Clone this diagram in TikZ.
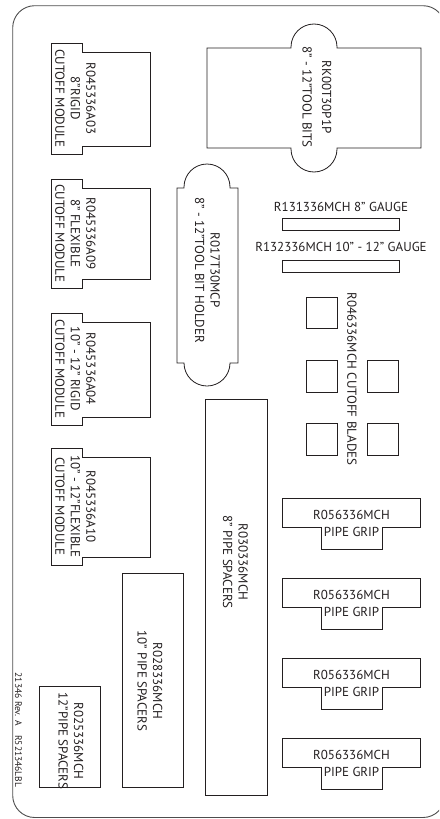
\documentclass[tikz,border=0pt]{standalone}
\usepackage{fontspec}
\setmainfont{PT Sans}

\tikzstyle{part-line}=[draw={partline}, line width=0.8pt]
\tikzstyle{frame-line}=[draw={frameline}, line width=0.9pt]
\tikzstyle{part-text}=[inner sep=0pt, align=center, text={partline}, font=\fontsize{13}{15.5}\selectfont]
\tikzstyle{side-text}=[part-text, rotate=-90]
\definecolor{partline}{HTML}{231f20}
\definecolor{frameline}{HTML}{4d4d4d}

\begin{document}
\begin{tikzpicture}[x=1pt, y=-1pt]
      \useasboundingbox (0, 0) rectangle (439, 819);
      \clip (0, 0) rectangle (439, 819);
      \draw [frame-line, rounded corners=22pt] (12.7, 5.7) rectangle (445, 817.5);

      \draw [part-line] (51, 43) -- (82, 43) -- (82, 52) -- (150, 52) -- (150, 146)
            -- (82, 146) -- (82, 154) -- (51, 154) -- cycle;
      \node (module1) at (75.5, 98.5) [side-text] {R045336A03\\8”RIGID\\CUTOFF MODULE};
      \draw [part-line] (51, 179) -- (82, 179) -- (82, 188) -- (150, 188) -- (150, 279)
            -- (82, 279) -- (82, 288) -- (51, 288) -- cycle;
      \node (module2) at (75.5, 233.5) [side-text] {R045336A09\\8” FLEXIBLE\\CUTOFF MODULE};
      \draw [part-line] (51, 313) -- (82, 313) -- (82, 322) -- (150, 322) -- (150, 417)
            -- (82, 417) -- (82, 425) -- (51, 425) -- cycle;
      \node (module3) at (75.5, 369) [side-text] {R045336A04\\10” - 12” RIGID\\CUTOFF MODULE};
      \draw [part-line] (51, 448) -- (82, 448) -- (82, 457) -- (150, 457) -- (150, 557)
            -- (82, 557) -- (82, 565) -- (51, 565) -- cycle;
      \node (module4) at (75.5, 506.5) [side-text] {R045336A10\\10” - 12”FLEXIBLE\\CUTOFF MODULE};

      \draw [part-line] (207, 48) -- (291, 48) -- (291, 47) arc[start angle=180, end angle=360, radius=23]
            -- (337, 48) -- (421, 48) -- (421, 148) -- (337, 148) -- (337, 149)
            arc[start angle=0, end angle=180, radius=23] -- (291, 148) -- (207, 148) -- cycle;
      \node (toolbits) at (317, 97) [side-text] {RK00T30P1P\\[4pt]8” - 12”TOOL BITS};

      \draw [part-line] (177, 363) -- (177, 188) -- (184, 188) -- (184, 187)
            arc[start angle=180, end angle=360, radius=23] -- (230, 188) -- (238, 188)
            -- (238, 363) -- (230, 363) arc[start angle=0, end angle=180, radius=23] -- (184, 363) -- cycle;
      \node (bitholder) at (207.5, 270) [side-text] {R017T30MCP\\8” - 12”TOOL BIT HOLDER};

      \node (gauge8) at (341, 207) [part-text] {R131336MCH 8” GAUGE};
      \draw [part-line] (282, 218) rectangle (399, 230);
      \node (gauge12) at (341, 247) [part-text] {R132336MCH 10” - 12” GAUGE};
      \draw [part-line] (282, 260) rectangle (399, 272);

      \draw [part-line] (306, 297) rectangle (337, 328);
      \draw [part-line] (306, 360) rectangle (337, 392);
      \draw [part-line] (367, 360) rectangle (398, 392);
      \draw [part-line] (306, 423) rectangle (337, 455);
      \draw [part-line] (367, 423) rectangle (398, 455);
      \node (blades) at (352, 379) [side-text] {R046336MCH CUTOFF BLADES};

      \draw [part-line] (205, 399) rectangle (267, 795);
      \node (spacer8) at (235.5, 562) [side-text] {R030336MCH\\8” PIPE SPACERS};
      \draw [part-line] (122, 573) rectangle (183, 787);
      \node (spacer10) at (150, 681) [side-text] {R028336MCH\\10” PIPE SPACERS};
      \draw [part-line] (39, 686) rectangle (100, 787);
      \node (spacer12) at (71, 741) [side-text] {R025336MCH\\12”PIPE SPACERS};

      \draw [part-line] (282.5, 498) -- (420, 498) -- (420, 527) -- (382, 527) -- (382, 549)
            -- (321, 549) -- (321, 527) -- (282.5, 527) -- cycle;
      \node (grip1) at (351.5, 523.5) [part-text] {R056336MCH\\[1.5pt]PIPE GRIP};
      \draw [part-line] (282.5, 578) -- (420, 578) -- (420, 607) -- (382, 607) -- (382, 629)
            -- (321, 629) -- (321, 607) -- (282.5, 607) -- cycle;
      \node (grip2) at (351.5, 603.5) [part-text] {R056336MCH\\[1.5pt]PIPE GRIP};
      \draw [part-line] (282.5, 658) -- (420, 658) -- (420, 687) -- (382, 687) -- (382, 709)
            -- (321, 709) -- (321, 687) -- (282.5, 687) -- cycle;
      \node (grip3) at (351.5, 683.5) [part-text] {R056336MCH\\[1.5pt]PIPE GRIP};
      \draw [part-line] (282.5, 738) -- (420, 738) -- (420, 767) -- (382, 767) -- (382, 789)
            -- (321, 789) -- (321, 767) -- (282.5, 767) -- cycle;
      \node (grip4) at (351.5, 763.5) [part-text] {R056336MCH\\[1.5pt]PIPE GRIP};

      \node (footer) at (18.5, 730) [side-text, font=\fontsize{9.5}{11}\selectfont] {21346 Rev. A\quad R521346LBL};
\end{tikzpicture}
\end{document}
